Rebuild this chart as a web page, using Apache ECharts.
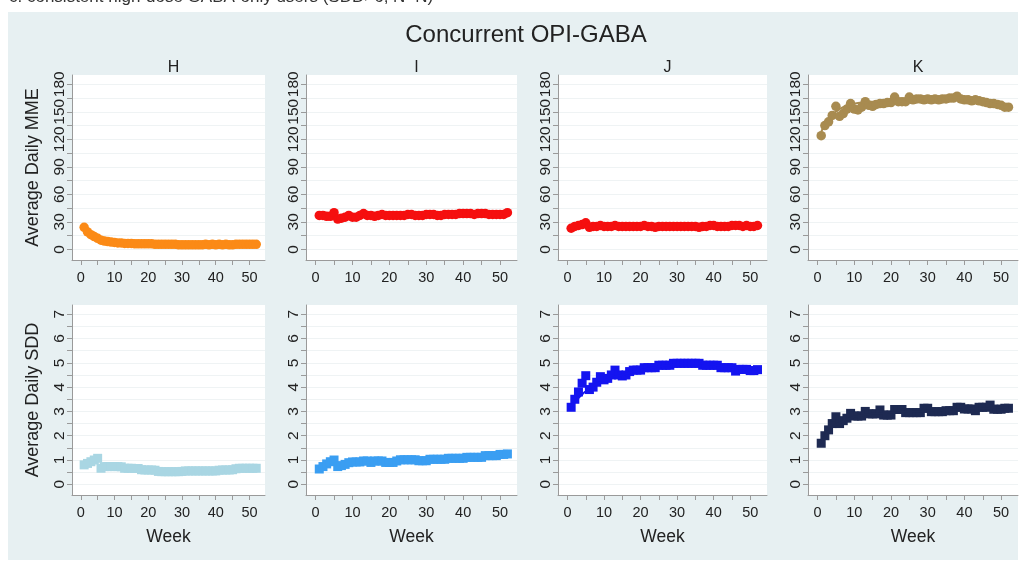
<!DOCTYPE html>
<html>
<head>
<meta charset="utf-8">
<script src="https://cdn.jsdelivr.net/npm/echarts@6/dist/echarts.min.js"></script>
<style>
html, body {margin: 0; padding: 0; background: #fff;}
#graph {width: 1024px; height: 563px;}
</style>
</head>
<body>
<div id="graph"></div>
<script>
var weeks = [1,2,3,4,5,6,7,8,9,10,11,12,13,14,15,16,17,18,19,20,21,22,23,24,25,26,
    27,28,29,30,31,32,33,34,35,36,37,38,39,40,41,42,43,44,45,46,47,48,49,50,51,52];

// top row: average daily MME
var mmeH = [24,19,16,14,12,10,9,8.5,8,7.5,7,7,6.5,6.5,6.5,6,6,6,6,6,6,5.5,5.5,5.5,5.5,5.5,
    5.5,5.5,5,5,5,5,5,5,5,5,5.5,5,5.5,5,5.5,5,5.5,5,5,5.5,5.5,5.5,5.5,5.5,5.5,5.5];
var mmeI = [37,37,36,36,40,33,34,35,37,35,35,37,39,37,37,36,37,38,37,37,37,37,37,37,38,38,
    37,37,37,38,38,38,37,37,38,38,38,38,39,39,39,39,38,39,39,39,38,38,38,38,38,40];
var mmeJ = [23,25,26,27,29,24,25,25,26,25,25,25,26,25,25,25,25,25,25,25,26,25,25,24,25,25,
    25,25,25,25,25,25,25,25,25,24,25,25,26,26,25,25,25,25,26,26,26,25,26,25,25,26];
var mmeK = [124,135,139,146,156,145,148,153,159,153,152,155,161,157,156,158,159,159,160,160,166,161,161,161,166,163,
    164,164,163,164,163,164,163,164,164,165,165,167,164,163,163,162,163,162,161,160,159,159,158,157,155,155];
var mmeKFit = [128,136,142,147,150,153,155,157,158,159,159.5,160,160.5,161,161,161.5,162,162,162.5,163,163,163.5,163.5,164,164,164,
    164.5,164.5,165,165,165,165,165.5,165.5,165.5,165.5,165.5,165.5,165,165,165,164.5,164,164,163,162.5,162,161,160,159,158,157];

// bottom row: average daily SDD
var sddH = [0.8,0.86,0.93,1.0,1.07,0.66,0.73,0.73,0.73,0.73,0.73,0.72,0.66,0.66,0.66,0.65,0.65,0.6,0.59,0.59,0.59,0.58,0.53,0.52,0.52,0.52,
    0.52,0.52,0.52,0.53,0.55,0.55,0.55,0.55,0.55,0.55,0.55,0.55,0.55,0.55,0.58,0.59,0.59,0.59,0.6,0.64,0.66,0.66,0.66,0.66,0.66,0.66];
var sddI = [0.63,0.73,0.84,0.93,1.0,0.73,0.77,0.82,0.89,0.92,0.92,0.92,0.96,0.96,0.9,0.96,0.96,0.96,0.9,0.9,0.9,0.96,1.01,1.01,1.01,1.01,
    1.01,0.97,0.97,0.97,1.03,1.03,1.03,1.03,1.03,1.07,1.07,1.07,1.07,1.07,1.11,1.11,1.11,1.11,1.11,1.18,1.18,1.18,1.18,1.23,1.23,1.25];
var sddJ = [3.17,3.5,3.8,4.16,4.47,3.9,4.0,4.2,4.43,4.3,4.36,4.5,4.7,4.5,4.46,4.5,4.64,4.7,4.7,4.7,4.8,4.8,4.8,4.8,4.9,4.9,
    4.9,4.9,4.98,4.98,4.98,4.98,4.98,4.98,4.98,4.98,4.9,4.9,4.9,4.9,4.9,4.8,4.8,4.8,4.8,4.66,4.73,4.73,4.73,4.68,4.68,4.72];
var sddJFit = [3.2,3.4,3.55,3.7,3.83,3.95,4.05,4.13,4.2,4.27,4.33,4.38,4.43,4.47,4.51,4.55,4.59,4.63,4.66,4.7,4.73,4.76,4.79,4.82,4.85,4.87,
    4.89,4.91,4.93,4.94,4.95,4.96,4.97,4.97,4.97,4.97,4.96,4.95,4.94,4.92,4.9,4.88,4.86,4.84,4.82,4.8,4.78,4.76,4.74,4.72,4.71,4.7];
var sddK = [1.69,2.0,2.24,2.5,2.78,2.5,2.62,2.72,2.92,2.81,2.81,2.81,3.0,2.9,2.9,2.9,3.06,2.85,2.85,2.85,3.08,3.08,3.08,2.95,2.95,2.95,
    2.95,2.95,3.13,3.13,2.99,2.99,2.99,2.99,3.03,3.03,3.03,3.17,3.17,3.1,3.1,3.1,3.03,3.17,3.17,3.17,3.26,3.09,3.09,3.09,3.13,3.13];
var sddKFit = [1.7,1.98,2.2,2.35,2.45,2.53,2.6,2.66,2.72,2.78,2.81,2.84,2.86,2.88,2.9,2.91,2.92,2.93,2.94,2.95,2.96,2.97,2.98,2.99,3.0,3.0,
    3.01,3.01,3.02,3.03,3.03,3.04,3.04,3.05,3.06,3.06,3.07,3.08,3.09,3.1,3.1,3.11,3.12,3.12,3.13,3.13,3.14,3.14,3.15,3.15,3.16,3.16];

var panelLetters = ['H', 'I', 'J', 'K'];
var mmeTicks = [0,15,30,45,60,75,90,105,120,135,150,165,180];
var mmeLabels = [0,30,60,90,120,150,180];
var sddTicks = [0,0.5,1,1.5,2,2.5,3,3.5,4,4.5,5,5.5,6,6.5,7];
var sddLabels = [0,1,2,3,4,5,6,7];
var weekTicks = [0,5,10,15,20,25,30,35,40,45,50];
var weekLabels = [0,10,20,30,40,50];

var font = 'Liberation Sans, Arial, sans-serif';
var ink = '#222';
var axisGray = '#9a9a9a';

var cols = [
    {left: 72, width: 193},
    {left: 306, width: 211},
    {left: 558, width: 209},
    {left: 808, width: 210}
];
var rows = [
    {top: 75, height: 185, min: -11.6, max: 190.1, ticks: mmeTicks, labels: mmeLabels,
        name: 'Average Daily MME', symbol: 'circle', size: 9.5,
        series: [mmeH, mmeI, mmeJ, mmeK], fits: [null, null, null, mmeKFit],
        colors: ['#fb8a16', '#f50f0f', '#f50f0f', '#a88b50']},
    {top: 305, height: 190, min: -0.44, max: 7.38, ticks: sddTicks, labels: sddLabels,
        name: 'Average Daily SDD', symbol: 'rect', size: 9,
        series: [sddH, sddI, sddJ, sddK], fits: [null, null, sddJFit, sddKFit],
        colors: ['#a9d6e3', '#3a9ef2', '#1414f0', '#1e2a52']}
];

function pairs(vals) {
    return weeks.map(function(w, i) { return [w, vals[i]]; });
}

var grids = [], xAxes = [], yAxes = [], series = [];
var titles = [
    {text: 'c. consistent high-dose GABA-only users (SDD>6, N=N)', left: 4, top: -16,
        textStyle: {fontSize: 17, fontWeight: 'normal', color: '#333', fontFamily: font}},
    {text: 'Concurrent OPI-GABA', left: 521, top: 18, textAlign: 'center',
        textStyle: {fontSize: 24, fontWeight: 'normal', color: ink, fontFamily: font}}
];

rows.forEach(function(row, r) {
    cols.forEach(function(col, c) {
        var idx = grids.length;
        grids.push({
            left: col.left, top: row.top, width: col.width, height: row.height,
            show: true, backgroundColor: '#fff', borderWidth: 0
        });
        xAxes.push({
            gridIndex: idx, type: 'value', min: -2.6, max: 54.6,
            name: r === 1 ? 'Week' : '', nameLocation: 'middle', nameGap: 33,
            nameTextStyle: {fontSize: 17.5, color: ink, fontFamily: font},
            axisLine: {show: true, onZero: false, lineStyle: {color: axisGray}},
            axisTick: {show: true, length: 5, customValues: weekTicks, lineStyle: {color: axisGray}},
            axisLabel: {customValues: weekLabels, fontSize: 14.5, color: ink, margin: 10, fontFamily: font},
            splitLine: {show: false}
        });
        yAxes.push({
            gridIndex: idx, type: 'value', min: row.min, max: row.max,
            name: c === 0 ? row.name : '', nameLocation: 'middle', nameGap: 30,
            nameTextStyle: {fontSize: 18, color: ink, fontFamily: font},
            axisLine: {show: true, onZero: false, lineStyle: {color: axisGray}},
            axisTick: {show: true, length: 5, customValues: row.ticks, lineStyle: {color: axisGray}},
            axisLabel: {customValues: row.labels, rotate: 90, fontSize: 15.5, color: ink, margin: 4, fontFamily: font},
            splitLine: {show: true, lineStyle: {color: '#eff3f4', width: 1}}
        });
        if (r === 0) {
            titles.push({
                text: panelLetters[c], left: col.left + col.width / 2, top: 55, textAlign: 'center',
                textStyle: {fontSize: 16, fontWeight: 'normal', color: ink, fontFamily: font}
            });
        }
        series.push({
            type: 'scatter', xAxisIndex: idx, yAxisIndex: idx,
            symbol: row.symbol, symbolSize: row.size,
            itemStyle: {color: row.colors[c], opacity: 1},
            data: pairs(row.series[c])
        });
        if (row.fits[c]) {
            series.push({
                type: 'line', xAxisIndex: idx, yAxisIndex: idx, smooth: true,
                showSymbol: false, lineStyle: {color: row.colors[c], width: 2},
                data: pairs(row.fits[c]), z: 3
            });
        }
    });
});

var option = {
    animation: false,
    title: titles,
    graphic: [{
        type: 'rect', z: -10, silent: true,
        shape: {x: 8, y: 12, width: 1010, height: 548},
        style: {fill: '#e7f0f2'}
    }],
    grid: grids,
    xAxis: xAxes,
    yAxis: yAxes,
    series: series
};

var chart = echarts.init(document.getElementById('graph'));
chart.setOption(option);
</script>
</body>
</html>
